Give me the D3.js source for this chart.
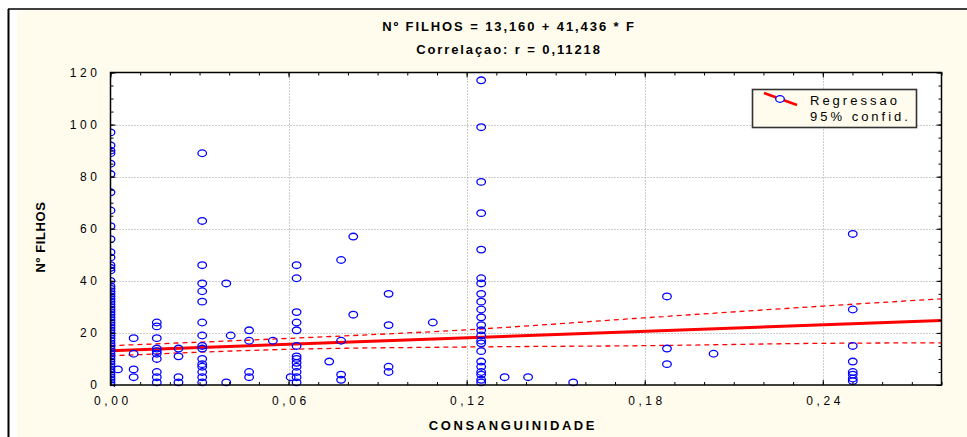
<!DOCTYPE html>
<html>
<head>
<meta charset="utf-8">
<script src="https://cdn.jsdelivr.net/npm/d3@7"></script>
<style>
  body { margin: 0; background: #ffffff; }
  text { font-family: "Liberation Sans", Arial, sans-serif; fill: #000; }
</style>
</head>
<body>
<div id="chart"></div>
<script>
'use strict';

// consanguinity value of each column of points
const consang = [0, 0.0025, 0.0078, 0.0156, 0.0229, 0.0309, 0.039, 0.0405, 0.0467, 0.0547,
  0.0607, 0.0627, 0.0737, 0.0777, 0.0818, 0.0937, 0.1086, 0.1249, 0.1328, 0.1407,
  0.1559, 0.1875, 0.2032, 0.2501];

// number of children for the points in each column
const filhos = [
  [97, 92, 90, 89, 85, 81, 74, 67, 61, 56, 51, 49, 46, 45, 44, 40, 38, 37, 36, 35, 34, 33, 32,
   31, 30, 29, 28, 27, 26, 25, 24, 23, 22, 21, 20, 19, 18, 17, 16, 15, 14, 13, 12, 11, 10, 9,
   8, 7, 6, 5, 4, 3, 2, 1, 0],
  [6],
  [18, 12, 6, 3],
  [24, 22.5, 18, 14, 13, 12, 10, 5, 3, 1],
  [14, 11, 3, 1],
  [89, 63, 46, 39, 36, 32, 24, 19, 15, 14, 10, 8, 7, 5, 3, 1],
  [39, 1],
  [19],
  [21, 17, 5, 3],
  [17],
  [3],
  [46, 41, 28, 24, 21, 15, 11, 10, 8.5, 7, 5, 3, 1],
  [9],
  [48, 17, 4, 2],
  [57, 27],
  [35, 23, 7, 5],
  [24],
  [117, 99, 78, 66, 52, 41, 39, 35, 32, 29, 26, 23, 21, 19, 17, 16, 13, 9, 7, 5, 4, 2, 1],
  [3],
  [3],
  [1],
  [34, 14, 8],
  [12],
  [58, 29, 15, 9, 5, 4, 2.5, 1.5]
];

// regression  N = 13,160 + 41,436 * F
const regCoef = [13.160, 41.436];

// 95% confidence band
const bandX = [0, 0.06, 0.12, 0.18, 0.24, 0.28];
const bandUpper = [15.1, 17.9, 21.2, 25.8, 30.3, 33.1];
const bandLower = [11.2, 13.7, 14.6, 15.1, 16.0, 16.2];

const xTicks = [0, 0.06, 0.12, 0.18, 0.24];
const yTicks = [0, 20, 40, 60, 80, 100, 120];

const titleLines = ["Nº FILHOS = 13,160 + 41,436 * F", "Correlaçao: r = 0,11218"];
const legendLabels = ["Regressao", "95% confid."];

(function() {

  let svg = "";

  window.onload = function() {
    svg = d3.select('#chart')
      .append('svg')
      .attr('width', 967)
      .attr('height', 437);
    drawChart();
  }

  function drawChart() {
    // outer frame
    svg.append('rect')
      .attr('x', 17).attr('y', 10)
      .attr('width', 950).attr('height', 427)
      .attr('fill', '#fffcee');
    svg.append('line')
      .attr('x1', 8).attr('y1', 9).attr('x2', 967).attr('y2', 9)
      .attr('stroke', '#000').attr('stroke-width', 1.5);
    svg.append('line')
      .attr('x1', 8.5).attr('y1', 9).attr('x2', 8.5).attr('y2', 437)
      .attr('stroke', '#000').attr('stroke-width', 2);

    let x = d3.scaleLinear().domain([0, 0.28]).range([110.5, 941.5]);
    let y = d3.scaleLinear().domain([0, 120]).range([385, 72.5]);

    // plot background
    svg.append('rect')
      .attr('x', x(0)).attr('y', y(120))
      .attr('width', x(0.28) - x(0)).attr('height', y(0) - y(120))
      .attr('fill', '#ffffff');

    svg.append('clipPath').attr('id', 'plotClip')
      .append('rect')
      .attr('x', x(0)).attr('y', y(120) - 2)
      .attr('width', x(0.28) - x(0) + 2).attr('height', y(0) - y(120) + 4);

    drawGrid(x, y);
    drawBands(x, y);
    plotData(x, y);
    drawAxes(x, y);
    makeLabels();
    makeLegend();
  }

  // dotted grid at the major ticks
  function drawGrid(x, y) {
    let grid = svg.append('g')
      .attr('stroke', '#9a9a9a')
      .attr('stroke-width', 1)
      .attr('stroke-dasharray', '1,2');
    grid.selectAll('.vgrid')
      .data(xTicks.slice(1))
      .enter()
      .append('line')
        .attr('x1', (d) => Math.round(x(d)) + 0.5)
        .attr('x2', (d) => Math.round(x(d)) + 0.5)
        .attr('y1', y(120)).attr('y2', y(0));
    grid.selectAll('.hgrid')
      .data(yTicks.slice(1, -1))
      .enter()
      .append('line')
        .attr('y1', (d) => Math.round(y(d)) + 0.5)
        .attr('y2', (d) => Math.round(y(d)) + 0.5)
        .attr('x1', x(0)).attr('x2', x(0.28));
  }

  // regression line and confidence band
  function drawBands(x, y) {
    let g = svg.append('g').attr('clip-path', 'url(#plotClip)');

    let bandLine = (vals) => d3.line()
      .x((d, i) => x(bandX[i]))
      .y((d) => y(d))
      .curve(d3.curveMonotoneX)(vals);

    [bandUpper, bandLower].forEach((b) => {
      g.append('path')
        .attr('d', bandLine(b))
        .attr('fill', 'none')
        .attr('stroke', '#ff0000')
        .attr('stroke-width', 1.3)
        .attr('stroke-dasharray', '5,4');
    });

    let ends = [0, 0.28];
    g.append('path')
      .datum(ends)
      .attr('fill', 'none')
      .attr('stroke', '#ff0000')
      .attr('stroke-width', 3)
      .attr('d', d3.line()
        .x((d) => x(d))
        .y((d) => y(regCoef[0] + regCoef[1] * d)));
  }

  // open blue circles
  function plotData(x, y) {
    let points = [];
    consang.forEach((c, i) => {
      filhos[i].forEach((v) => points.push({ x: c, y: v }));
    });

    svg.append('g')
      .attr('clip-path', 'url(#plotClip)')
      .selectAll('.dot')
      .data(points)
      .enter()
      .append('ellipse')
        .attr('cx', (d) => x(d.x))
        .attr('cy', (d) => y(d.y))
        .attr('rx', 4.3)
        .attr('ry', 3.3)
        .attr('fill', 'none')
        .attr('stroke', '#0000ff')
        .attr('stroke-width', 1.3);
  }

  // draw the frame, ticks and tick labels
  function drawAxes(x, y) {
    let fmt = (d) => d3.format('.2f')(d).replace('.', ',');
    let bottom = y(0), top = y(120), left = x(0), right = x(0.28);

    // minor ticks on all four sides
    let minor = [
      [d3.axisBottom(x).ticks(28), 0, bottom],
      [d3.axisTop(x).ticks(28), 0, top],
      [d3.axisLeft(y).ticks(30), left, 0],
      [d3.axisRight(y).ticks(30), right, 0]
    ];
    minor.forEach((m) => {
      svg.append('g')
        .attr('transform', 'translate(' + m[1] + ',' + m[2] + ')')
        .call(m[0].tickSizeInner(-3).tickSizeOuter(0).tickFormat(''))
        .call((g) => g.select('.domain').remove())
        .selectAll('line').attr('stroke', '#000');
    });

    // major ticks, labels on bottom and left
    let xAxis = d3.axisBottom(x).tickValues(xTicks).tickSizeInner(-5).tickSizeOuter(0)
      .tickPadding(11).tickFormat(fmt);
    svg.append('g')
      .attr('class', 'xaxis')
      .attr('transform', 'translate(0,' + bottom + ')')
      .call(xAxis);

    let yAxis = d3.axisLeft(y).tickValues(yTicks).tickSizeInner(-5).tickSizeOuter(0)
      .tickPadding(10);
    svg.append('g')
      .attr('class', 'yaxis')
      .attr('transform', 'translate(' + left + ',0)')
      .call(yAxis);

    svg.append('g')
      .attr('transform', 'translate(0,' + top + ')')
      .call(d3.axisTop(x).tickValues(xTicks).tickSizeInner(-5).tickSizeOuter(0).tickFormat(''));
    svg.append('g')
      .attr('transform', 'translate(' + right + ',0)')
      .call(d3.axisRight(y).tickValues(yTicks).tickSizeInner(-5).tickSizeOuter(0).tickFormat(''));

    svg.selectAll('.domain').remove();
    svg.selectAll('.tick line').attr('stroke', '#000');
    svg.selectAll('.xaxis text, .yaxis text')
      .style('font-family', '"Liberation Sans", Arial, sans-serif')
      .style('font-size', '12px')
      .style('letter-spacing', '3.6px')
      .attr('fill', '#000');
    svg.selectAll('.xaxis text').attr('dx', '1.8px');

    // plot frame
    svg.append('rect')
      .attr('x', left).attr('y', top)
      .attr('width', right - left).attr('height', bottom - top)
      .attr('fill', 'none')
      .attr('stroke', '#000')
      .attr('stroke-width', 1.5);
  }

  // make title and axes labels
  function makeLabels() {
    svg.append('text')
      .attr('x', 509).attr('y', 31)
      .attr('text-anchor', 'middle')
      .style('font-size', '13px')
      .style('font-weight', 'bold')
      .style('letter-spacing', '1.9px')
      .text(titleLines[0]);
    svg.append('text')
      .attr('x', 509).attr('y', 53.5)
      .attr('text-anchor', 'middle')
      .style('font-size', '13px')
      .style('font-weight', 'bold')
      .style('letter-spacing', '1.9px')
      .text(titleLines[1]);

    svg.append('text')
      .attr('x', 513).attr('y', 430)
      .attr('text-anchor', 'middle')
      .style('font-size', '13px')
      .style('font-weight', 'bold')
      .style('letter-spacing', '2.6px')
      .text('CONSANGUINIDADE');

    svg.append('text')
      .attr('transform', 'translate(45, 237)rotate(-90)')
      .attr('text-anchor', 'middle')
      .style('font-size', '13px')
      .style('font-weight', 'bold')
      .style('letter-spacing', '0.6px')
      .text('Nº FILHOS');
  }

  function makeLegend() {
    let lg = svg.append('g');
    lg.append('rect')
      .attr('x', 752.5).attr('y', 89.5)
      .attr('width', 164).attr('height', 38)
      .attr('fill', '#fffcee')
      .attr('stroke', '#333')
      .attr('stroke-width', 1.6);
    lg.append('line')
      .attr('x1', 764).attr('y1', 93).attr('x2', 797).attr('y2', 105)
      .attr('stroke', '#ff0000')
      .attr('stroke-width', 2.5);
    lg.append('ellipse')
      .attr('cx', 780).attr('cy', 99)
      .attr('rx', 4.3).attr('ry', 3.3)
      .attr('fill', '#fffcee')
      .attr('stroke', '#0000ff')
      .attr('stroke-width', 1.3);
    lg.selectAll('.ltext')
      .data(legendLabels)
      .enter()
      .append('text')
        .attr('x', 810)
        .attr('y', (d, i) => 105 + i * 16)
        .style('font-size', '13px')
        .style('letter-spacing', '3px')
        .text((d) => d);
  }

})();
</script>
</body>
</html>
